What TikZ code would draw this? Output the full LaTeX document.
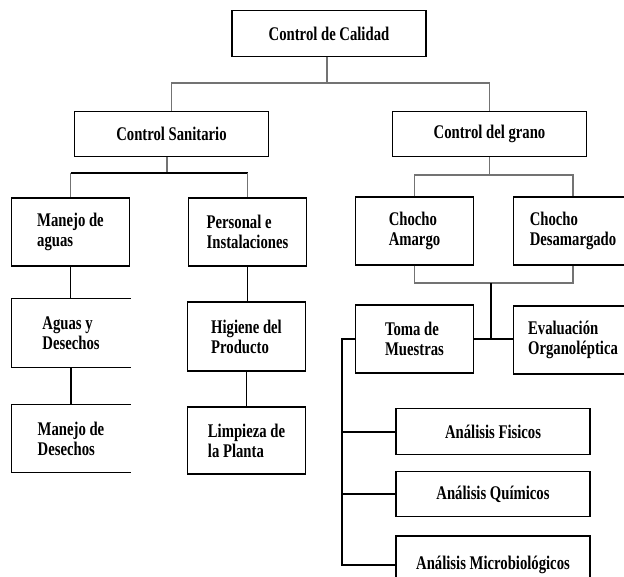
\documentclass[tikz,border=0pt]{standalone}
\usepackage{fontspec}
\setmainfont{Liberation Serif}[FakeStretch=0.76]
\newcommand\boxfont{\fontsize{14.5}{15}\selectfont\bfseries}

\tikzset{
  box/.style={draw, line width=0.8pt, inner sep=0pt, align=left, font=\boxfont,
    minimum width=89pt, minimum height=51pt},
  wide/.style={box, minimum width=145.5pt, minimum height=34pt},
  openbox/.style={box, draw=none},
  link/.style={draw=black!55, line width=0.8pt},
  dlink/.style={draw=black, line width=0.8pt},
}

\begin{document}
\begin{tikzpicture}[x=0.75pt,y=-0.75pt]
  \useasboundingbox (0,0) rectangle (624,577);
  \clip (0,0) rectangle (624,577);
  % top levels
  \node[wide] (cal) at (329,33.5) {Control de Calidad};
  \node[wide] (san) at (171.5,134) {Control Sanitario};
  \node[wide] (gra) at (489.5,134) {Control del grano};
  % sanitary branch
  \node[box] (agu) at (70.5,232) {Manejo de\\aguas};
  \node[box] (per) at (247.5,232) {Personal e\\Instalaciones};
  \node[openbox,minimum width=88.5pt] (ayd) at (71,333) {Aguas y\\Desechos};
  \node[box,minimum height=51.75pt] (hig) at (246.5,336.5) {Higiene del\\Producto};
  \node[openbox,minimum width=88.5pt,minimum height=50.25pt] (mad) at (71,438.5) {Manejo de\\Desechos};
  \node[box,minimum height=50.25pt] (lim) at (246.5,440.5) {Limpieza de\\la Planta};
  \draw[dlink] (ayd.north east) -- (ayd.north west) -- (ayd.south west) -- (ayd.south east);
  \draw[dlink,line width=1.4pt] (mad.north east) -- (mad.north west);
  \draw[dlink] (mad.north west) -- (mad.south west) -- (mad.south east);
  % grain branch
  \node[box] (ama) at (414.5,231) {Chocho\\Amargo};
  \node[box] (des) at (573,231) {Chocho\\Desamargado};
  \node[box] (tom) at (414.5,339) {Toma de\\Muestras};
  \node[box] (eva) at (573,340) {Evaluación\\Organoléptica};
  \node[wide] (fis) at (493,431.5) {Análisis Fisicos};
  \node[wide] (qui) at (493,494) {Análisis Químicos};
  \node[wide,minimum height=43.5pt] (mic) at (493,565) {Análisis Microbiológicos};

  % connectors
  \coordinate (b1) at (327,83);
  \draw[link] (b1 |- cal.south) -- (b1);
  \draw[link] (san.north) |- (b1) -| (gra.north);
  \coordinate (b2) at (167,173);
  \draw[link] (b2 |- san.south) -- (b2);
  \draw[dlink,line width=1.5pt] (agu.north |- b2) -- (per.north |- b2);
  \draw[link] (agu.north |- b2) -- (agu.north);
  \draw[link] (per.north |- b2) -- (per.north);
  \coordinate (b3) at (489,175);
  \draw[link] (gra.south) -- (gra.south |- b3);
  \draw[link] (ama.north) |- (b3) -| (des.north);
  \draw[dlink] (agu.south) -- (agu.south |- ayd.north);
  \draw[dlink] (ayd.south) -- (ayd.south |- mad.north);
  \draw[dlink] (per.south) -- (per.south |- hig.north);
  \draw[dlink] (hig.south) -- (hig.south |- lim.north);
  \coordinate (b4) at (491,283);
  \draw[link] (ama.south) |- (b4) -| (des.south);
  \draw[dlink] (b4) -- (b4 |- tom.east);
  \draw[dlink] (tom.east) -- (tom.east -| eva.west);
  \coordinate (b5) at (342,565);
  \draw[dlink] (tom.west) -| (b5) -- (mic.west);
  \draw[dlink,line width=1.5pt] (b5 |- fis.west) -- (fis.west);
  \draw[dlink] (b5 |- qui.west) -- (qui.west);
\end{tikzpicture}
\end{document}
